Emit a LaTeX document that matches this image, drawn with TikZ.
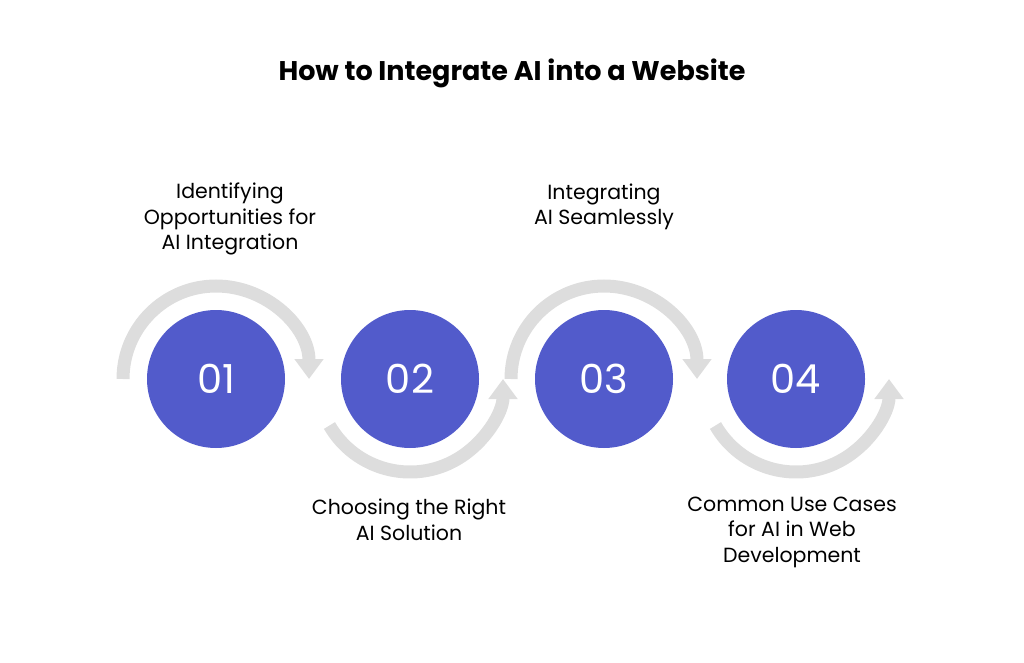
\documentclass[tikz,border=0pt]{standalone}
\usepackage{fontspec}
\setmainfont{Poppins}
\usetikzlibrary{arrows.meta}
\definecolor{cblue}{HTML}{525BCB}
\definecolor{cgray}{HTML}{DDDDDD}
\begin{document}
\begin{tikzpicture}[x=1pt,y=-1pt,
  step circ/.style={circle,fill=cblue,minimum size=138pt,inner sep=0pt,text=white,font=\fontsize{40}{40}\selectfont},
  lbl/.style={align=center,font=\fontsize{20.5}{25.5}\selectfont,text=black},
  arcline/.style={draw=cgray,line width=13pt,-{Triangle[width=28pt,length=20pt]}}]
\useasboundingbox (0,0) rectangle (1024,663);
\node[font=\bfseries\fontsize{27}{27}\selectfont] (title) at (512,73) {How to Integrate AI into a Website};
\node[step circ] (c1) at (216,379) {01};
\node[step circ] (c2) at (410,379) {02};
\node[step circ] (c3) at (604,379) {03};
\node[step circ] (c4) at (796,379) {04};
\draw[arcline] (c1.center) ++(180:93) arc[start angle=180,end angle=360,radius=93];
\draw[arcline] (c2.center) ++(150:93) arc[start angle=150,end angle=0,radius=93];
\draw[arcline] (c3.center) ++(180:93) arc[start angle=180,end angle=360,radius=93];
\draw[arcline] (c4.center) ++(150:93) arc[start angle=150,end angle=0,radius=93];
\node[lbl] (l1) at (230,219) {Identifying\\Opportunities for\\AI Integration};
\node[lbl] (l3) at (604,207) {Integrating\\AI Seamlessly};
\node[lbl] (l2) at (409,520) {Choosing the Right\\AI Solution};
\node[lbl] (l4) at (792,532) {Common Use Cases\\for AI in Web\\Development};
\end{tikzpicture}
\end{document}
